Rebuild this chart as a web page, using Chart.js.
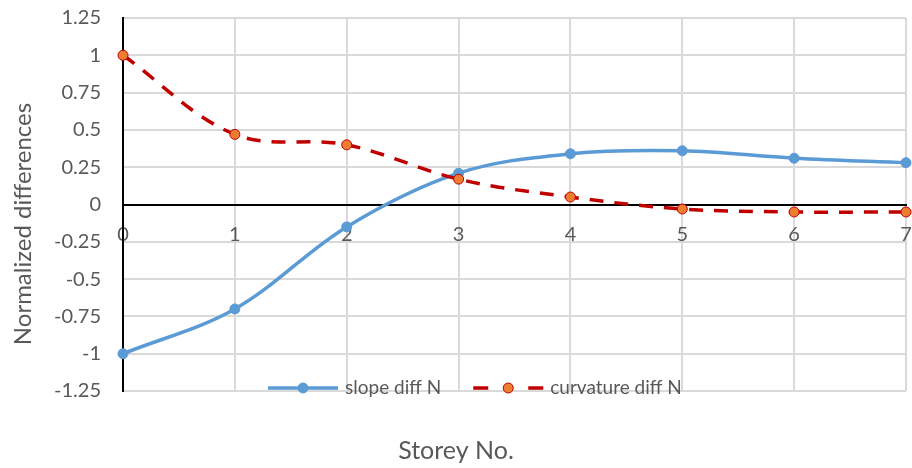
<!DOCTYPE html>
<html>
<head>
<meta charset="utf-8">
<script src="https://cdn.jsdelivr.net/npm/chart.js@4/dist/chart.umd.min.js"></script>
<style>
  html, body { margin: 0; padding: 0; background: #ffffff; }
  #wrap { width: 912px; height: 468px; }
</style>
</head>
<body>
<div id="wrap"><canvas id="c" width="912" height="468"></canvas></div>
<script>
// Storey numbers along the horizontal axis
const storeys = ['0', '1', '2', '3', '4', '5', '6', '7'];
// Normalized slope differences per storey
const slopeDiff = [-1.00, -0.70, -0.15, 0.21, 0.34, 0.36, 0.31, 0.28];
// Normalized curvature differences per storey
const curvatureDiff = [1.00, 0.47, 0.40, 0.17, 0.05, -0.03, -0.05, -0.05];
const seriesNames = ['slope diff N', 'curvature diff N'];
const xTitle = 'Storey No.';
const yTitle = 'Normalized differences';

const FONT = 'Lato';
const TEXT = '#595959';
const GRID = '#d9d9d9';
const BLUE = '#5b9bd5';
const RED = '#c00000';
const ORANGE = '#ed7d31';

// Rotated axis title on the left and the legend row inside the plot
const decor = {
  id: 'decor',
  afterDraw(chart) {
    const ctx = chart.ctx;
    ctx.save();
    ctx.fillStyle = TEXT;
    ctx.font = `24px ${FONT}`;
    ctx.textAlign = 'center';
    ctx.textBaseline = 'middle';
    ctx.translate(23, 224);
    ctx.rotate(-Math.PI / 2);
    ctx.fillText(yTitle, 0, 0);
    ctx.restore();

    const y = 388;
    let x = 268;
    const sample = 70;
    ctx.save();
    ctx.font = `19px ${FONT}`;
    ctx.textBaseline = 'middle';
    ctx.textAlign = 'left';
    chart.data.datasets.slice().sort((a, b) => a.legendIndex - b.legendIndex).forEach((ds) => {
      ctx.strokeStyle = ds.borderColor;
      ctx.lineWidth = ds.borderWidth;
      if (ds.borderDash && ds.borderDash.length) {
        ctx.beginPath();
        ctx.moveTo(x, y); ctx.lineTo(x + 15, y);
        ctx.moveTo(x + sample - 15, y); ctx.lineTo(x + sample, y);
        ctx.stroke();
      } else {
        ctx.beginPath();
        ctx.moveTo(x, y); ctx.lineTo(x + sample, y);
        ctx.stroke();
      }
      ctx.beginPath();
      ctx.arc(x + sample / 2, y, ds.pointRadius, 0, Math.PI * 2);
      ctx.fillStyle = ds.pointBackgroundColor;
      ctx.fill();
      ctx.lineWidth = ds.pointBorderWidth;
      ctx.strokeStyle = ds.pointBorderColor;
      ctx.stroke();
      ctx.fillStyle = TEXT;
      ctx.fillText(ds.label, x + sample + 7, y);
      x += sample + 7 + ctx.measureText(ds.label).width + 32;
    });
    ctx.restore();
  }
};

new Chart(document.getElementById('c'), {
  type: 'line',
  data: {
    labels: storeys,
    datasets: [
      {
        label: seriesNames[0],
        legendIndex: 0,
        data: slopeDiff,
        borderColor: BLUE,
        borderWidth: 3.5,
        pointRadius: 5,
        pointBackgroundColor: BLUE,
        pointBorderColor: BLUE,
        pointBorderWidth: 1,
        tension: 0.35,
        order: 2,
        clip: false
      },
      {
        label: seriesNames[1],
        legendIndex: 1,
        data: curvatureDiff,
        borderColor: RED,
        borderWidth: 3.5,
        borderDash: [14, 11],
        pointRadius: 5,
        pointBackgroundColor: ORANGE,
        pointBorderColor: RED,
        pointBorderWidth: 1,
        tension: 0.35,
        order: 1,
        clip: false
      }
    ]
  },
  options: {
    responsive: false,
    animation: false,
    events: [],
    layout: { padding: { top: 18, right: 0, bottom: 0, left: 0 } },
    plugins: {
      legend: { display: false },
      tooltip: { enabled: false },
      title: {
        display: true,
        position: 'bottom',
        text: xTitle,
        color: TEXT,
        font: { family: FONT, size: 25, weight: 'normal', lineHeight: 1.2 },
        padding: { top: 45, bottom: 2 }
      }
    },
    scales: {
      x: {
        type: 'category',
        position: { y: 0 },
        offset: false,
        grid: { color: GRID, lineWidth: 2, drawTicks: true, tickLength: 18, tickColor: 'rgba(0,0,0,0)' },
        border: { display: true, color: '#000000', width: 2 },
        ticks: { color: TEXT, font: { family: FONT, size: 20 }, padding: 0, maxRotation: 0, autoSkip: false }
      },
      y: {
        type: 'linear',
        min: -1.25,
        max: 1.25,
        afterFit(scale) { scale.width = 123; },
        grid: { color: GRID, lineWidth: 2, drawTicks: true, tickLength: 22, tickColor: 'rgba(0,0,0,0)' },
        border: { display: true, color: '#000000', width: 2 },
        ticks: {
          stepSize: 0.25,
          maxTicksLimit: 20,
          color: TEXT,
          font: { family: FONT, size: 20 },
          padding: 0,
          callback: (v) => String(parseFloat(Number(v).toFixed(2)))
        }
      }
    }
  },
  plugins: [decor]
});
</script>
</body>
</html>
